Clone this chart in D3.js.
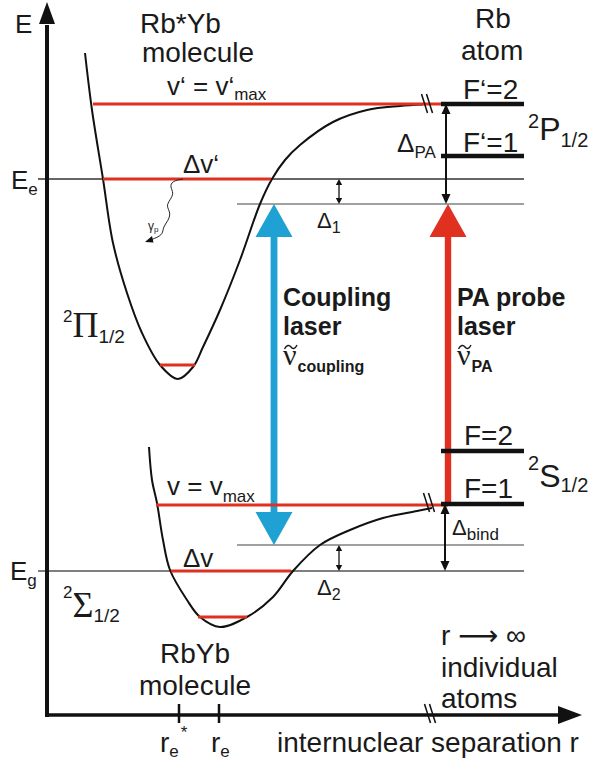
<!DOCTYPE html>
<html><head><meta charset="utf-8">
<script src="https://cdn.jsdelivr.net/npm/d3@7"></script>
<style>
body{margin:0;background:#fff}
svg{display:block}
text{font-family:"Liberation Sans",Arial,sans-serif;fill:#1a1a1a}
</style>
</head><body>
<script>
// Potential energy curves, in (separation r, energy E) units
const excitedPotential = [[7.6,132.4],[9,121],[11.2,107.2],[13.2,94.4],[16,84.4],[19,76.4],[22.6,70],[26.2,67.2],[29.2,69.6],[31.2,73.6],[34.6,81],[38.6,91],[42.6,102.2],[45,107.2],[47.6,111],[50.6,114],[57.2,118.6],[64,121],[70.6,121.8],[75.2,122.1]];
const groundPotential = [[20.4,53.6],[21,47],[22,42.4],[23.2,35],[24.6,29],[28,23],[30.6,19.6],[34.6,17.6],[40,19.6],[45.2,23.6],[49.2,28.8],[54.6,34],[60.6,37],[67.2,39.4],[74,40.8],[77,41.4]];

// Vibrational levels: energy and the r-span they occupy
const excitedLevelE = [122.2, 107.2, 70];
const excitedLevelR = [[9.2,78.8],[11.2,44.8],[22.6,29.6]];
const groundLevelE = [42, 28.8, 19.6];
const groundLevelR = [[21.8,80.2],[24.8,48.8],[30.2,40]];

// Reference energies: Ee, laser-detuned excited, laser-detuned ground, Eg
const refEnergies = [107.2, 102.2, 34, 28.8];
const refStartR = [-1.8, 38, 38, -1.8];
const refEndR = 95.4;

// Hyperfine levels of the separated Rb atom
const atomLevelNames = ["F‘=2","F‘=1","F=2","F=1"];
const atomLevelE = [122.2, 111.8, 52.8, 42.2];
const atomLevelR = [78.8, 95.4];

// Detunings: [r, E from, E to]
const detuningNames = ["Δ1","Δ2","ΔPA","Δbind"];
const detunings = [[58.4,107.2,102.2],[58.4,34,28.8],[79.8,122.2,102.2],[79.6,42.2,28.8]];

// Lasers: [r, E bottom, E top]
const couplingLaser = [45.4, 34, 102.2];
const probeLaser = [80.2, 42, 102.2];

// Spontaneous decay path
const decayPath = [[27.2,107.2],[25,106.8],[24.6,105.6],[25.4,104.4],[24.6,103],[23.8,101.8],[24.8,100.4],[24.2,98.8],[23.2,97.6],[23.2,96.2],[21.8,95.4],[20.6,95]];
const decayTip = [19.6,94.6];

// Equilibrium separations on the r axis
const bondLengths = [26.4, 34.4];

// Axis breaks: [r, E]
const breaks = [[76,122.2],[76.4,42.4],[76.6,0.2]];

const W = 596, H = 765;
const RED = "#e0301f", BLUE = "#1fa2d3";

const svg = d3.select("body").append("svg").attr("width", W).attr("height", H);
const x = d3.scaleLinear().domain([0,107]).range([47,582]);
const y = d3.scaleLinear().domain([0,142.6]).range([715,2]);

// reference energy lines
svg.selectAll("line.ref").data(refEnergies).join("line")
  .attr("x1",(d,i)=>x(refStartR[i])).attr("x2",x(refEndR))
  .attr("y1",d=>y(d)).attr("y2",d=>y(d))
  .attr("stroke",(d,i)=>i===0?"#333":(i===3?"#555":"#808080")).attr("stroke-width",1.3);

// laser arrows as filled outlines
function laserPath(r, e0, e1, headLen, headHalf, shaftHalf, both){
  const xc = x(r), yt = y(e1), yb = y(e0);
  const p = d3.path();
  p.moveTo(xc, yt);
  p.lineTo(xc+headHalf, yt+headLen);
  p.lineTo(xc+shaftHalf, yt+headLen);
  if(both){
    p.lineTo(xc+shaftHalf, yb-headLen);
    p.lineTo(xc+headHalf, yb-headLen);
    p.lineTo(xc, yb);
    p.lineTo(xc-headHalf, yb-headLen);
    p.lineTo(xc-shaftHalf, yb-headLen);
  } else {
    p.lineTo(xc+shaftHalf, yb);
    p.lineTo(xc-shaftHalf, yb);
  }
  p.lineTo(xc-shaftHalf, yt+headLen);
  p.lineTo(xc-headHalf, yt+headLen);
  p.closePath();
  return p.toString();
}
svg.append("path").attr("d", laserPath(couplingLaser[0],couplingLaser[1],couplingLaser[2],33,18.5,3.4,true)).attr("fill",BLUE);

// potential curves
const line = d3.line().x(d=>x(d[0])).y(d=>y(d[1])).curve(d3.curveCatmullRom.alpha(0.5));
svg.append("path").attr("d",line(excitedPotential)).attr("fill","none").attr("stroke","#111").attr("stroke-width",2);
svg.append("path").attr("d",line(groundPotential)).attr("fill","none").attr("stroke","#111").attr("stroke-width",2);

// vibrational levels
const vib = excitedLevelE.map((e,i)=>({E:e,r:excitedLevelR[i]})).concat(groundLevelE.map((e,i)=>({E:e,r:groundLevelR[i]})));
svg.selectAll("line.vib").data(vib).join("line")
  .attr("x1",d=>x(d.r[0])).attr("x2",d=>x(d.r[1]))
  .attr("y1",d=>y(d.E)).attr("y2",d=>y(d.E))
  .attr("stroke",RED).attr("stroke-width",3);

// PA probe laser
svg.append("path").attr("d", laserPath(probeLaser[0],probeLaser[1],probeLaser[2],33,18.5,3.2,false)).attr("fill",RED);

// atomic hyperfine levels
svg.selectAll("line.atom").data(atomLevelE).join("line")
  .attr("x1",x(atomLevelR[0])).attr("x2",x(atomLevelR[1]))
  .attr("y1",d=>y(d)).attr("y2",d=>y(d))
  .attr("stroke","#111").attr("stroke-width",4.5);

// detuning double arrows
function dArrow(r, e1, e2, hl, hw, sw){
  const xc = x(r), ya = y(Math.max(e1,e2)), yb = y(Math.min(e1,e2));
  const g = svg.append("g").attr("fill","#111");
  g.append("line").attr("x1",xc).attr("x2",xc).attr("y1",ya+hl-1).attr("y2",yb-hl+1).attr("stroke","#111").attr("stroke-width",sw);
  g.append("path").attr("d",`M${xc},${ya}L${xc+hw},${ya+hl}L${xc-hw},${ya+hl}Z`);
  g.append("path").attr("d",`M${xc},${yb}L${xc+hw},${yb-hl}L${xc-hw},${yb-hl}Z`);
}
detunings.forEach((d,i)=>{
  if(i<2) dArrow(d[0],d[1],d[2],6,3.2,1.3);
  else dArrow(d[0],d[1],d[2],10,4.5,2);
});

// decay path
svg.append("path").attr("d", d3.line().x(d=>x(d[0])).y(d=>y(d[1])).curve(d3.curveBasis)(decayPath))
  .attr("fill","none").attr("stroke","#222").attr("stroke-width",1);
{
  const tx = x(decayTip[0]), ty = y(decayTip[1]);
  svg.append("path").attr("d",`M${tx},${ty}L${tx+7},${ty-6}L${tx+8.5},${ty+0.5}Z`).attr("fill","#111");
}

// axes
svg.append("line").attr("x1",x(0)).attr("x2",x(0)).attr("y1",y(0)+2).attr("y2",y(138)).attr("stroke","#111").attr("stroke-width",4);
svg.append("path").attr("d",`M${x(0)},${y(142.6)}L${x(0)+8},${y(142.6)+22}L${x(0)-8},${y(142.6)+22}Z`).attr("fill","#111");
svg.append("line").attr("x1",x(0)-2).attr("x2",x(103)).attr("y1",y(0)).attr("y2",y(0)).attr("stroke","#111").attr("stroke-width",3.5);
svg.append("path").attr("d",`M${x(107)},${y(0)}L${x(107)-24},${y(0)-9}L${x(107)-24},${y(0)+9}Z`).attr("fill","#111");

// bond length ticks
svg.selectAll("line.tick").data(bondLengths).join("line")
  .attr("x1",d=>x(d)).attr("x2",d=>x(d)).attr("y1",y(0)-11).attr("y2",y(0)+8)
  .attr("stroke","#111").attr("stroke-width",2.5);

// break marks
breaks.forEach(b=>{
  const bx = x(b[0]), by = y(b[1]);
  [-2.5,2.5].forEach(o=>{
    svg.append("line").attr("x1",bx+o-3).attr("y1",by-10).attr("x2",bx+o+3).attr("y2",by+9)
      .attr("stroke","#111").attr("stroke-width",1.5);
  });
});

// text helper: parts = [text, size, dy (from baseline), opts]
function rich(x0, y0, parts, anchor){
  const t = svg.append("text").attr("x",x0).attr("y",y0).attr("text-anchor",anchor||"start");
  let prev = 0;
  parts.forEach(p=>{
    const o = p[3]||{};
    const s = t.append("tspan").text(p[0]).attr("font-size",p[1]).attr("dy",(p[2]||0)-prev);
    if(o.serif) s.style("font-family","'Liberation Serif','Times New Roman',serif");
    if(o.family) s.style("font-family",o.family);
    if(o.bold) s.attr("font-weight","bold");
    if(o.dx) s.attr("dx",o.dx);
    prev = p[2]||0;
  });
  return t;
}

// wavenumber symbol: nu with a small wavy accent drawn over it
function nuTilde(x0, y0, sub){
  rich(x0, y0, [["ν",30,0,{serif:true}],[sub,16,7,{bold:true,dx:1}]]);
  const tx = x0 + 1.5, ty = y0 - 18;
  svg.append("path")
    .attr("d",`M${tx},${ty+2}C${tx+2},${ty-2.5} ${tx+5},${ty-2} ${tx+6.5},${ty}S${tx+10.5},${ty+2.5} ${tx+12.5},${ty-2}`)
    .attr("fill","none").attr("stroke","#1a1a1a").attr("stroke-width",1.4);
}

rich(15,33,[["E",26]]);
rich(11,189,[["E",26],["e",17,6]]);
rich(10,580,[["E",26],["g",17,6]]);

rich(140,33,[["Rb*Yb",28]]);
rich(142,62,[["molecule",28]]);
rich(167,95,[["v‘ = v‘",26],["max",17,5]]);
rich(183,173,[["Δv‘",26]]);
rich(148,230,[["γ",12],["p",8,2]]);

rich(475,28,[["Rb",28]]);
rich(461,60,[["atom",28]]);
rich(463,99,[[atomLevelNames[0],28]]);
rich(463,152,[[atomLevelNames[1],28]]);
rich(464,445,[[atomLevelNames[2],28]]);
rich(464,498,[[atomLevelNames[3],28]]);
rich(528,128,[["2",20],["P",32,12],["1/2",20,19]]);
rich(528,470,[["2",20],["S",32,17],["1/2",20,22]]);

rich(397,152,[["Δ",26],["PA",17,6]]);
rich(317,228,[["Δ",22],["1",16,5]]);
rich(317,595,[["Δ",22],["2",16,5]]);
rich(452,535,[["Δ",22],["bind",17,5]]);

rich(63,322,[["2",17],["Π",36,15,{serif:true}],["1/2",19,21]]);
rich(63,598,[["2",17],["Σ",36,19,{serif:true}],["1/2",19,24]]);

rich(167,495,[["v = v",26],["max",17,7]]);
rich(183,567,[["Δv",26]]);

rich(283,306,[["Coupling",25,0,{bold:true}]]);
rich(283,335,[["laser",25,0,{bold:true}]]);
nuTilde(283,365,"coupling");
rich(457,306,[["PA probe",25,0,{bold:true}]]);
rich(457,335,[["laser",25,0,{bold:true}]]);
nuTilde(457,365,"PA");

rich(441,645,[["r ",28],["⟶",28,0,{family:"'DejaVu Sans',sans-serif"}],[" ∞",28]]);
rich(441,677,[["individual",28]]);
rich(441,708,[["atoms",28]]);

rich(195,663,[["RbYb",28]],"middle");
rich(195,695,[["molecule",28]],"middle");

rich(x(bondLengths[0])-19,752,[["r",28],["e",17,5],["*",17,-14,{dx:2}]]);
rich(x(bondLengths[1])-8,752,[["r",28],["e",17,5]]);
rich(277,752,[["internuclear separation r",28]]);
</script>
</body></html>
